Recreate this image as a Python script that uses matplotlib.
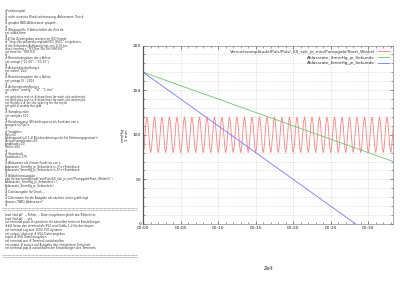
import numpy as np
import matplotlib
matplotlib.use("Agg")
import matplotlib.pyplot as plt
from matplotlib.ticker import MultipleLocator, FixedLocator

# ---------------- data ----------------
# one pulse cycle of the pressure oscillation, sampled every 1/8 s (read off the picture)
pulse_cycle = [80, 86, 100, 114, 120, 114, 100, 86]
pulse_period_s = 1.0
n_cycles = 34

# linear deflation lines: (time s, pressure mmHg) end points
green_t = [0, 33.3]
green_p = [170, 70.1]      # 3 mmHg per second
blue_t = [0, 28.33]
blue_p = [170, 0]          # 6 mmHg per second

series_labels = [
    "Versuchsamplitude/Puls/Puls/_60_sek_je_min/Pumpgabi/Start_Winkel",
    "Ablassrate_3mmHg_je_Sekunde",
    "Ablassrate_6mmHg_je_Sekunde",
]

x_ticks = [0, 5, 10, 15, 20, 25, 30]
x_tick_labels = ["00:00", "00:05", "00:10", "00:15", "00:20", "00:25", "00:30"]
y_ticks = [0, 50, 100, 150, 200]
y_tick_labels = ["0", "50", "100", "150", "200"]

script_lines = [
    "#Funktionsplot",
    "#",
    "# nicht invasive Blutdruckmessung, Ablesewert: Druck",
    "#",
    "# gnuplot NBD-Ablesewert: gnuplot -",
    "#",
    "# Wiegegrafik: X Achse bildet die Zeit ab.",
    "set xdata time",
    "#",
    "## Die Zeitangaben werden im ISO Format",
    "# \"http://de.wikipedia.org/wiki/ISO_8601\" eingelesen,",
    "# die Sekunden Auflösung hat von 1/10 sec.",
    "#set timefmt x \"%Y-%m-%d %H:%M:%S\"",
    "set timefmt \"%M:%S\"",
    "#",
    "# Bereichsangaben der x Achse",
    "set xrange [\"00:00\" : \"00:33\"]",
    "#",
    "# Achsenbeschriftung x",
    "set xlabel \"Zeit\"",
    "#",
    "# Bereichsangaben der y Achse",
    "set yrange [0 : 200]",
    "#",
    "# Achsenbeschriftung y",
    "set ylabel \"mmHg\" . \"\\n\" . \"1 min\"",
    "#",
    "set grid xtics mxtics # draw lines for each xtic and mxtic",
    "set grid ytics mytics # draw lines for each ytic and mytic",
    "set mytics 5 # set the spacing for the mytic",
    "set grid # enable the grid",
    "#",
    "# Samplepunkte",
    "set samples 500",
    "#",
    "# Kreisfrequenz (Winkelfrequenz als Funktion von x",
    "omega(x)=2*pi*x",
    "#",
    "# Variablen",
    "Puls=60",
    "Ablesepunkt=0.5 # Blutdruckmesspunkt für Strömungsgeräusch",
    "Versuchsamplitude=20",
    "Amplitude=20",
    "Mittel=100",
    "#",
    "# Startdruck",
    "Startdruck=170",
    "#",
    "# Ablassrate als lineare Funktion von x",
    "Ablassrate_3mmHg_je_Sekunde(x)=-3*x+Startdruck",
    "Ablassrate_6mmHg_je_Sekunde(x)=-6*x+Startdruck",
    "#",
    "# Bildschirmausgabe",
    "plot Versuchsamplitude*sin(Puls/60_sek_je_min*Pumpgabi(Start_Winkel)), \\",
    "Ablassrate_3mmHg_je_Sekunde(x), \\",
    "Ablassrate_6mmHg_je_Sekunde(x)",
    "#",
    "# Dateiausgabe für Druck...",
    "#",
    "# Dateiname für die Ausgabe als nächste unter grafik legt",
    "#name=\"NBD_Ablesewert\"",
    "#",
]

console_lines = [
    "load 'nbd.plt'  -- Fehler ... Datei eingelesen gleich wie Bildschirm",
    "load 'nbd.plt' ... set",
    "set terminal push # speichere die aktuellen terminal Einstellungen",
    "### Setze das terminal als SVG und Größe 1:2 für den Import",
    "set terminal svg size 1000,700 dynamic",
    "set output 'nbd.svg' # SVG Datei angeben",
    "replot # SVG Datei ausgeben",
    "set terminal wxt # Terminal zurückstellen",
    "set output # zurück auf Ausgabe des interaktiven Terminals",
    "set terminal pop # zurückholen der Einstellungen des Terminals",
]

# ---------------- figure ----------------
W, H = 400, 283
fig = plt.figure(figsize=(W / 100, H / 100), dpi=100)
fig.patch.set_facecolor("white")

ax = fig.add_axes([0.358, 0.2085, 0.6245, 0.6307])

red_vals = np.array(pulse_cycle * n_cycles + [pulse_cycle[0]], dtype=float)
red_t = np.arange(len(red_vals)) * (pulse_period_s / len(pulse_cycle))

ax.plot(red_t, red_vals, color="#ff8080", lw=0.6, label=series_labels[0])
ax.plot(green_t, green_p, color="#70c470", lw=0.6, label=series_labels[1])
ax.plot(blue_t, blue_p, color="#7878ff", lw=0.6, label=series_labels[2])

ax.set_xlim(0, 33.3)
ax.set_ylim(0, 200)
ax.xaxis.set_major_locator(FixedLocator(x_ticks))
ax.set_xticklabels(x_tick_labels)
ax.xaxis.set_minor_locator(MultipleLocator(1))
ax.yaxis.set_major_locator(FixedLocator(y_ticks))
ax.set_yticklabels(y_tick_labels)
ax.yaxis.set_minor_locator(MultipleLocator(10))

ax.tick_params(which="both", direction="in", top=True, right=True,
               labelsize=3.2, colors="#555555", pad=1.5)
ax.tick_params(which="major", length=2.5, width=0.5)
ax.tick_params(which="minor", length=1.3, width=0.4)
for lab in ax.get_xticklabels() + ax.get_yticklabels():
    lab.set_color("#222222")

ax.grid(which="major", axis="both", color="#c8c8c8", lw=0.4, ls=(0, (1.5, 1.5)))
ax.grid(which="minor", axis="y", color="#d0d0d0", lw=0.4, ls=(0, (1.5, 1.5)))
for s in ax.spines.values():
    s.set_color("#888888")
    s.set_linewidth(0.5)
ax.spines["left"].set_color("#555555")
ax.spines["left"].set_linewidth(0.9)

ax.set_xlabel("Zeit", fontsize=3.4, labelpad=26, color="#222222")
ax.set_ylabel("mmHg\n1 min", fontsize=3.0, labelpad=3, color="#222222",
              linespacing=1.1)

leg = ax.legend(loc="upper right", markerfirst=False, frameon=False,
                fontsize=3.1, handlelength=2.4, handletextpad=0.8,
                labelspacing=0.4, borderaxespad=0.6)
for t in leg.get_texts():
    t.set_color("#333333")

# ---------------- left script text panel ----------------
y0, pitch = 10.7, 3.18
for i, line in enumerate(script_lines):
    fig.text(5 / W, 1 - (y0 + i * pitch) / H, line, fontsize=2.05,
             color="#333333", va="center", ha="left", family="DejaVu Sans")

def separator(ypix):
    for dy in (-0.9, 0.9):
        fig.add_artist(plt.Line2D([2 / W, 137 / W], [1 - (ypix + dy) / H] * 2,
                                  color="#999999", lw=0.6, ls=(0, (1, 0.6)),
                                  transform=fig.transFigure))

separator(209)
c0, cpitch = 215, 3.7
for i, line in enumerate(console_lines):
    fig.text(5 / W, 1 - (c0 + i * cpitch) / H, line, fontsize=2.05,
             color="#333333", va="center", ha="left", family="DejaVu Sans")
separator(256)

fig.savefig("out.png", dpi=100, facecolor="white")
